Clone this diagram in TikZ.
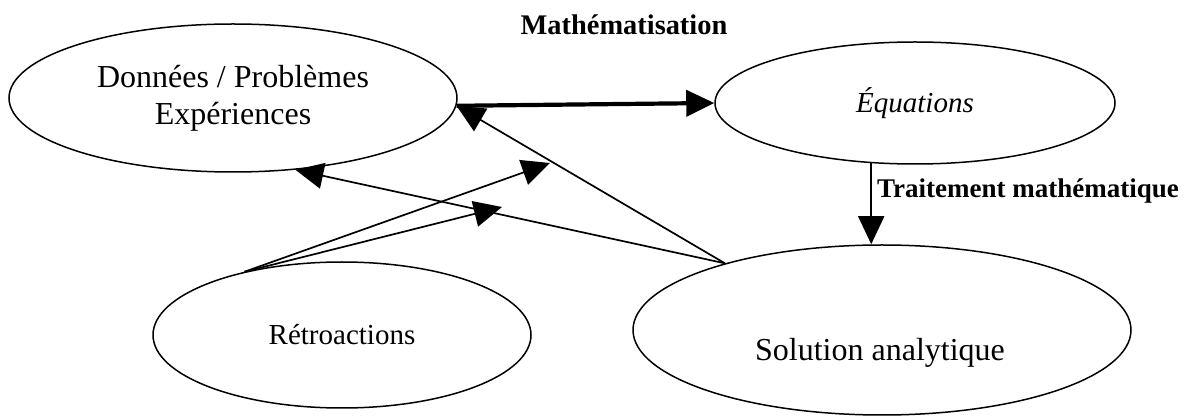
\documentclass[tikz,border=0pt]{standalone}
\usepackage{fontspec}
\setmainfont{Liberation Serif}
\usetikzlibrary{shapes.geometric,arrows.meta}

\begin{document}
\begin{tikzpicture}[x=0.5pt, y=-0.5pt]
        \tikzset{
            bubble/.style={
                draw=black,
                ellipse,
                line width=0.75pt,
                inner sep=0pt,
                align=center,
                font=\fontsize{16pt}{18.5pt}\selectfont
            },
            smallbubble/.style={bubble, font=\fontsize{14.5pt}{17pt}\selectfont},
            link/.style={-{Triangle[length=14pt, width=13pt]}, line width=0.85pt},
            mainlink/.style={-{Triangle[length=14pt, width=13pt]}, line width=2.1pt},
            tag/.style={font=\fontsize{13.5pt}{16pt}\selectfont\bfseries}
        }
        \useasboundingbox (0,0) rectangle (1188,416);

        \node[bubble, minimum width=224pt, minimum height=74pt] (don) at (233,98) {Données / Problèmes\\Expériences};
        \node[smallbubble, minimum width=200pt, minimum height=61pt] (equ) at (915,103) {\itshape Équations};
        \node[smallbubble, minimum width=189pt, minimum height=73pt] (ret) at (342,335) {Rétroactions};
        \node[bubble, minimum width=249pt, minimum height=85pt] (sol) at (882,330) {};
        \node[font=\fontsize{16pt}{18.5pt}\selectfont] (soltext) at (880,353) {Solution analytique};

        \node[tag, font=\fontsize{14.2pt}{16pt}\selectfont\bfseries] (math) at (624,25) {Mathématisation};
        \node[tag] (trait) at (1028,191) {Traitement mathématique};

        \coordinate (fbhi) at (550,163);
        \coordinate (fblo) at (502,207);

        \draw[mainlink] (don.-2.6) -- (equ.west);
        \draw[link] (equ.-126.4) -- (equ.-126.4 |- sol.north);
        \draw[link] (sol.157) -- (don.-2.6);
        \draw[link] (sol.157) -- (don.-49.5);
        \draw[link] (ret.147) -- (fbhi);
        \draw[link] (ret.147) -- (fblo);
    \end{tikzpicture}
\end{document}
